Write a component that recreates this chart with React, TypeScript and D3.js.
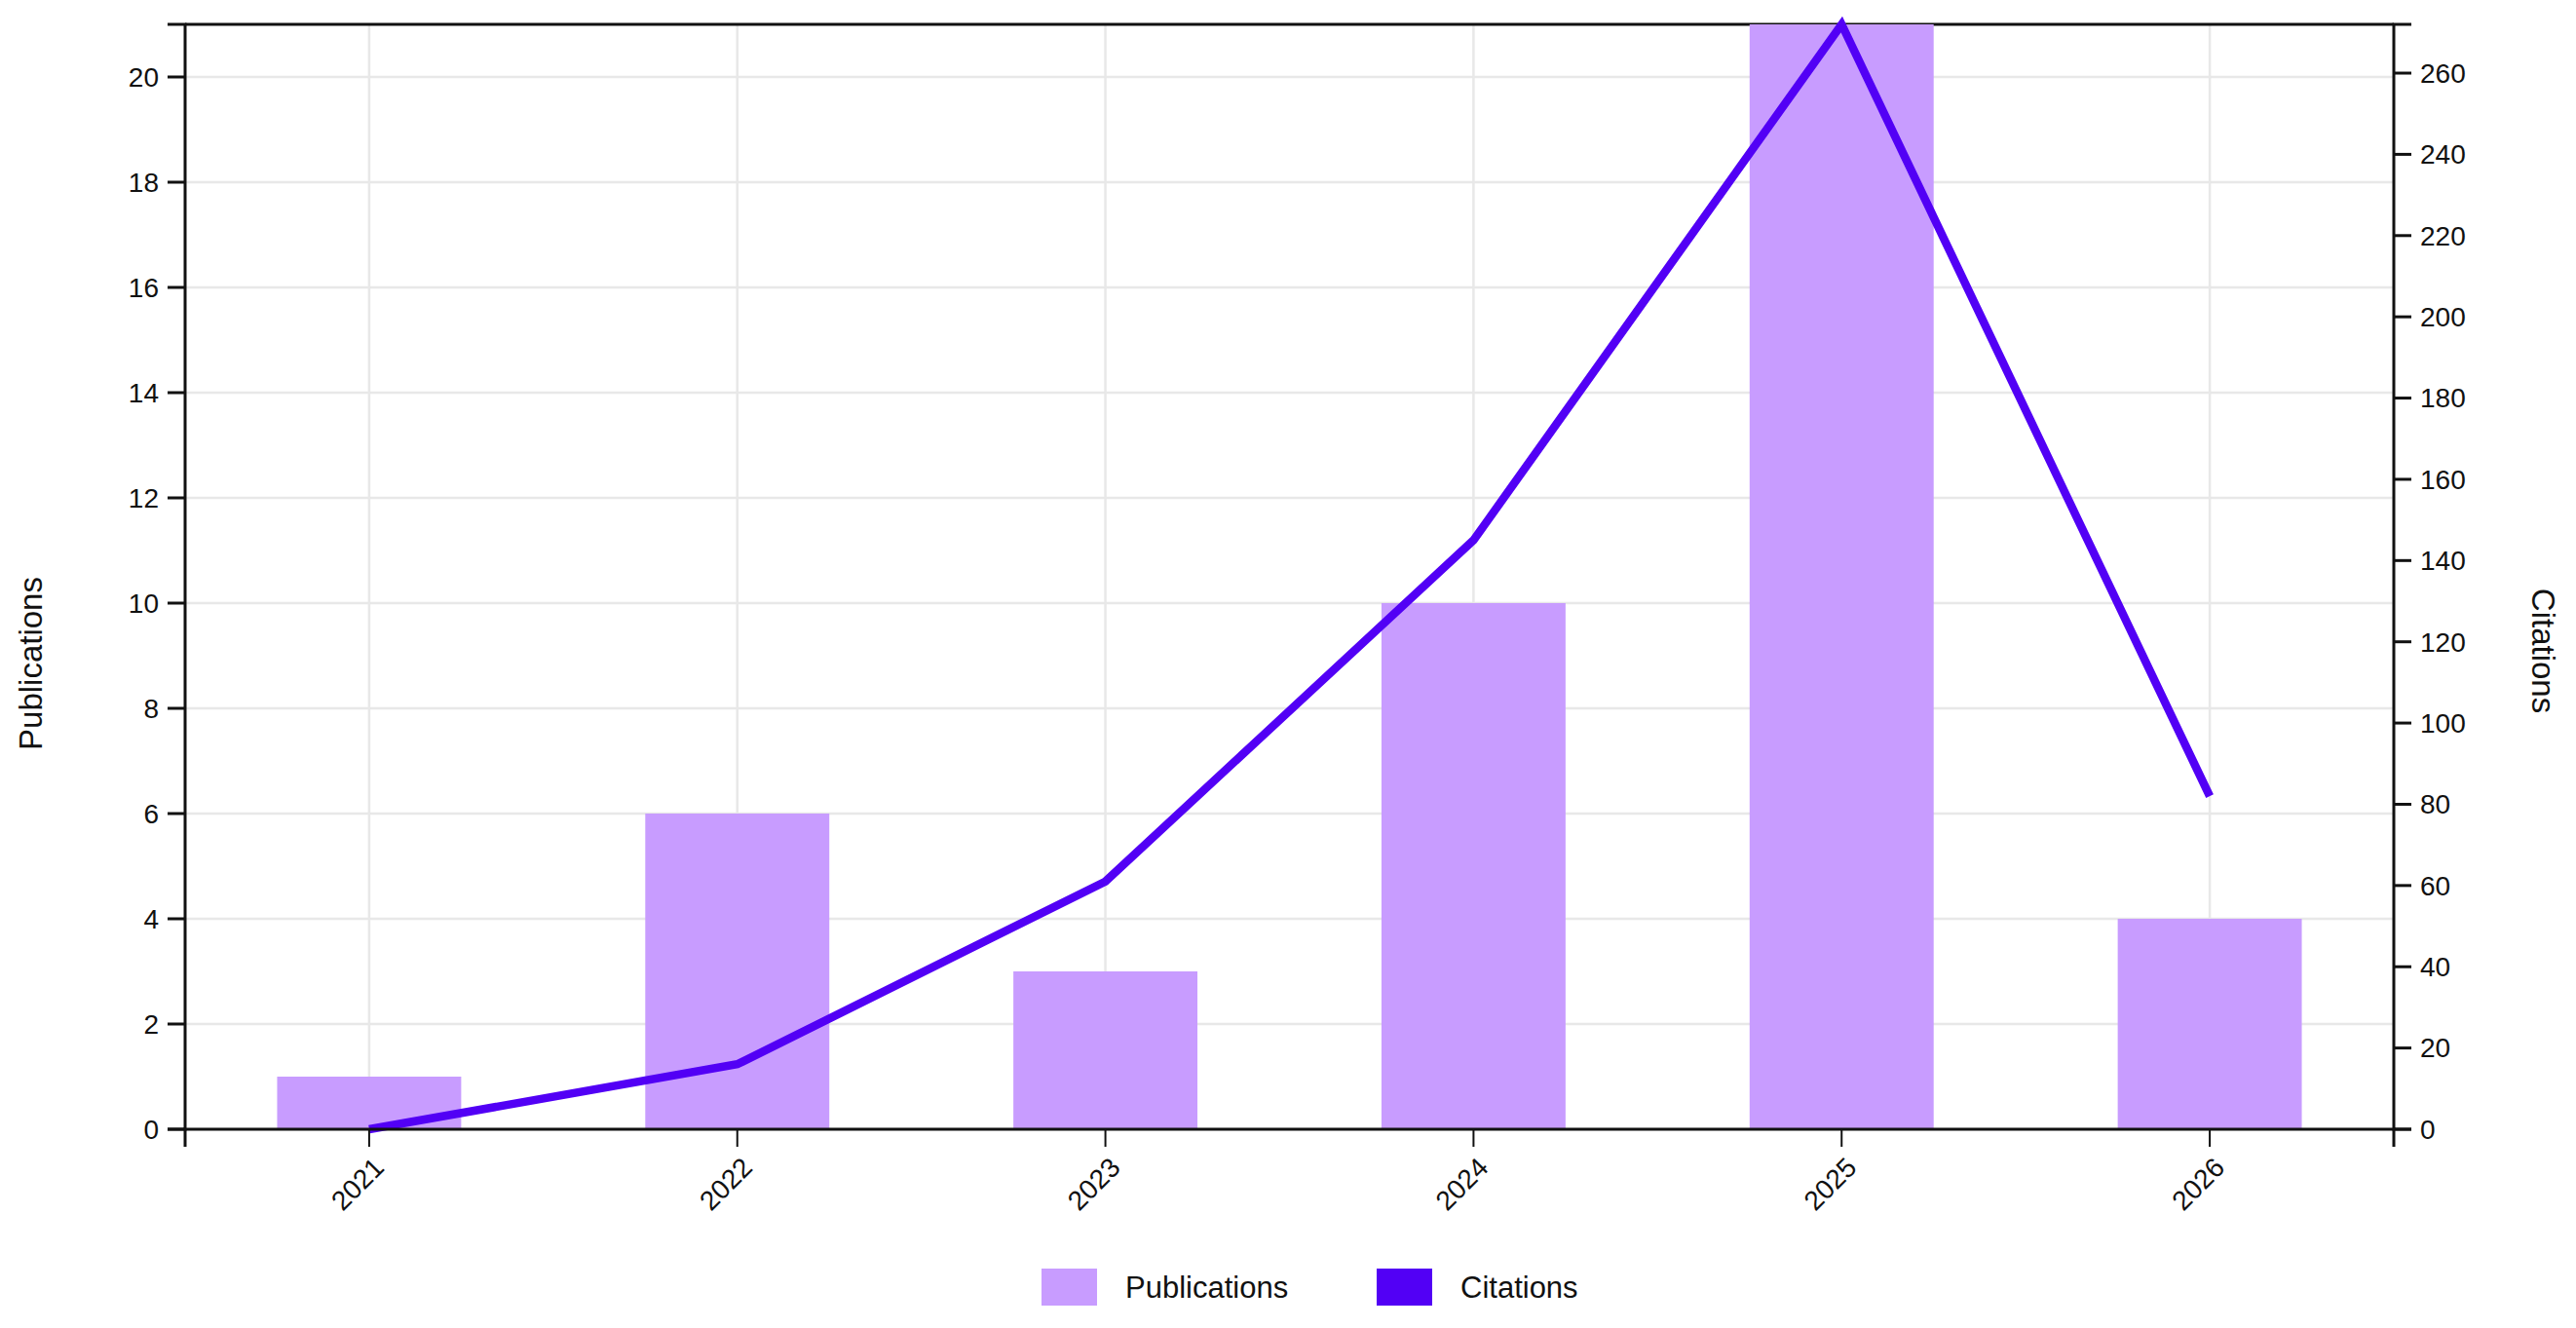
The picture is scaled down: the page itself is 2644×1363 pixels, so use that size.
import { useMemo } from "react";
import * as d3 from "d3";

const WIDTH = 2644;
const HEIGHT = 1363;
const MARGIN = { top: 25, right: 187, bottom: 204, left: 190 };

const years = ["2021", "2022", "2023", "2024", "2025", "2026"];
const publications = [1, 6, 3, 10, 21, 4];
const citations = [0, 16, 61, 145, 272, 82];
const legendLabels = ["Publications", "Citations"];
const legendX = [1069, 1413];

const BAR_COLOR = "#c89cff";
const LINE_COLOR = "#5200f5";
const GRID_COLOR = "#e8e8e8";
const INK = "#111";
const FONT = "'Liberation Sans', Arial, Helvetica, sans-serif";
const TICK = 18;
const PAD = 9;

export default function App() {
  const x0 = MARGIN.left;
  const x1 = WIDTH - MARGIN.right;
  const y0 = HEIGHT - MARGIN.bottom;
  const y1 = MARGIN.top;

  const x = useMemo(
    () => d3.scaleBand<string>().domain(years).range([x0, x1]).paddingInner(0.5).paddingOuter(0.25),
    [x0, x1]
  );
  const yLeft = useMemo(() => d3.scaleLinear().domain([0, d3.max(publications) ?? 21]).range([y0, y1]), [y0, y1]);
  const yRight = useMemo(() => d3.scaleLinear().domain([0, d3.max(citations) ?? 272]).range([y0, y1]), [y0, y1]);

  const center = (year: string) => (x(year) ?? 0) + x.bandwidth() / 2;
  const leftTicks = yLeft.ticks(10);
  const rightTicks = yRight.ticks(14);

  const path = d3
    .line<number>()
    .x((_, i) => center(years[i]))
    .y((v) => yRight(v))(citations);

  return (
    <svg
      width={WIDTH}
      height={HEIGHT}
      style={{ position: "absolute", left: 0, top: 0, background: "#fff" }}
      fontFamily={FONT}
    >
      {/* grid */}
      <g stroke={GRID_COLOR} strokeWidth={2.5}>
        {leftTicks.map((t) => (
          <line key={`h${t}`} x1={x0} x2={x1} y1={yLeft(t)} y2={yLeft(t)} />
        ))}
        {years.map((yr) => (
          <line key={`v${yr}`} x1={center(yr)} x2={center(yr)} y1={y1} y2={y0} />
        ))}
      </g>
      <line x1={x0} x2={x1} y1={y1} y2={y1} stroke={INK} strokeWidth={3} />

      {/* bars */}
      {years.map((yr, i) => (
        <rect
          key={yr}
          x={x(yr)}
          y={yLeft(publications[i])}
          width={x.bandwidth()}
          height={y0 - yLeft(publications[i])}
          fill={BAR_COLOR}
        />
      ))}

      {/* citations line */}
      {path ? <path d={path} fill="none" stroke={LINE_COLOR} strokeWidth={8.5} /> : null}

      {/* left axis */}
      <g fontSize={28} fill={INK}>
        <path d={`M${x0 - TICK},${y1}H${x0}V${y0}H${x0 - TICK}`} fill="none" stroke={INK} strokeWidth={3} />
        {leftTicks.map((t) => (
          <g key={`l${t}`} transform={`translate(${x0},${yLeft(t)})`}>
            <line x2={-TICK} stroke={INK} strokeWidth={3} />
            <text x={-TICK - PAD} dy="0.35em" textAnchor="end">
              {t}
            </text>
          </g>
        ))}
      </g>

      {/* right axis */}
      <g fontSize={28} fill={INK}>
        <path d={`M${x1 + TICK},${y1}H${x1}V${y0}H${x1 + TICK}`} fill="none" stroke={INK} strokeWidth={3} />
        {rightTicks.map((t) => (
          <g key={`r${t}`} transform={`translate(${x1},${yRight(t)})`}>
            <line x2={TICK} stroke={INK} strokeWidth={3} />
            <text x={TICK + PAD} dy="0.35em" textAnchor="start">
              {t}
            </text>
          </g>
        ))}
      </g>

      {/* bottom axis */}
      <g fontSize={28} fill={INK}>
        <path d={`M${x0},${y0 + TICK}V${y0}H${x1}V${y0 + TICK}`} fill="none" stroke={INK} strokeWidth={3} />
        {years.map((yr) => (
          <g key={`b${yr}`} transform={`translate(${center(yr)},${y0})`}>
            <line y2={TICK} stroke={INK} strokeWidth={2} />
            <text transform="translate(10,34) rotate(-45)" dy="0.35em" textAnchor="end">
              {yr}
            </text>
          </g>
        ))}
      </g>

      {/* axis titles */}
      <text transform="translate(31,681) rotate(-90)" textAnchor="middle" dy="0.35em" fontSize={33} fill={INK}>
        Publications
      </text>
      <text transform="translate(2611,668) rotate(90)" textAnchor="middle" dy="0.35em" fontSize={33} fill={INK}>
        Citations
      </text>

      {/* legend */}
      <g fontSize={31} fill={INK}>
        {legendLabels.map((label, i) => (
          <g key={label} transform={`translate(${legendX[i]},1302)`}>
            <rect width={57} height={38} fill={i === 0 ? BAR_COLOR : LINE_COLOR} />
            <text x={86} y={19} dy="0.35em">
              {label}
            </text>
          </g>
        ))}
      </g>
    </svg>
  );
}
